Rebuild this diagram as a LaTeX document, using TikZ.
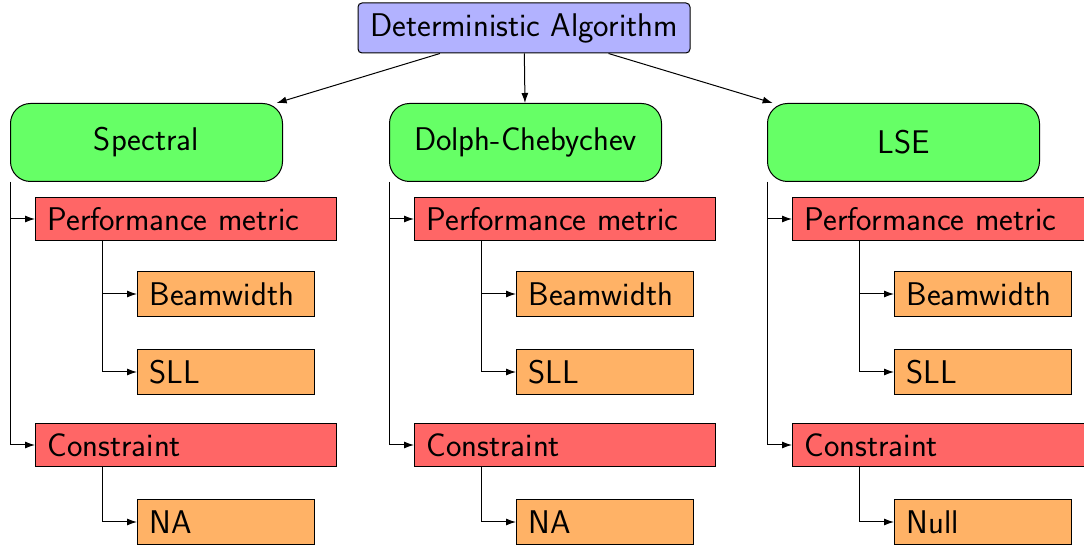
\documentclass[tikz,border=0pt]{standalone}
\usetikzlibrary{arrows.meta,positioning}

\tikzset{
  algorithm/.style={draw, fill=blue!30, rounded corners=2pt,
    minimum width=166pt, minimum height=25pt},
  method/.style={draw, fill=green!60, rounded corners=10pt, anchor=north west,
    minimum width=136pt, minimum height=39pt},
  criterion/.style={draw, fill=red!60, anchor=north west, inner xsep=6pt,
    text width=138.5pt, align=left, minimum height=21.5pt},
  measure/.style={draw, fill=orange!60, anchor=north west, inner xsep=6pt,
    text width=76.5pt, align=left, minimum height=22.5pt},
}

\begin{document}
\begin{tikzpicture}[x=0.5pt,y=-0.5pt,>={Latex[length=5pt,width=3.5pt]},
    line width=0.5pt, font=\fontsize{16.4}{19.5}\selectfont\sffamily]
  \useasboundingbox (0,0) rectangle (1084,545);

  \node[algorithm] (root) at (524,28) {Deterministic Algorithm};

  % one column per method
  \foreach \m/\x/\name/\cons in {spec/10/Spectral/NA,
                                 dolph/389/Dolph-Chebychev/NA,
                                 lse/767/LSE/Null} {
    \node[method]    (\m)      at (\x,103)     {\name};
    \node[criterion] (\m-perf) at (\x+25,197)  {Performance metric};
    \node[measure]   (\m-bw)   at (\x+127,271) {Beamwidth};
    \node[measure]   (\m-sll)  [below=16pt of \m-bw] {SLL};
    \node[criterion] (\m-cons) at (\x+25,423)  {Constraint};
    \node[measure]   (\m-val)  at (\x+127,499) {\cons};

    \coordinate (\m-perfstem) at ([xshift=33.5pt]\m-perf.south west);
    \coordinate (\m-consstem) at ([xshift=33.5pt]\m-cons.south west);

    \draw[->] (root) -- (\m);
    \draw[->] (\m.south west) |- (\m-perf.west);
    \draw[->] (\m.south west) |- (\m-cons.west);
    \draw[->] (\m-perfstem) |- (\m-bw.west);
    \draw[->] (\m-perfstem) |- (\m-sll.west);
    \draw[->] (\m-consstem) |- (\m-val.west);
  }
\end{tikzpicture}
\end{document}
